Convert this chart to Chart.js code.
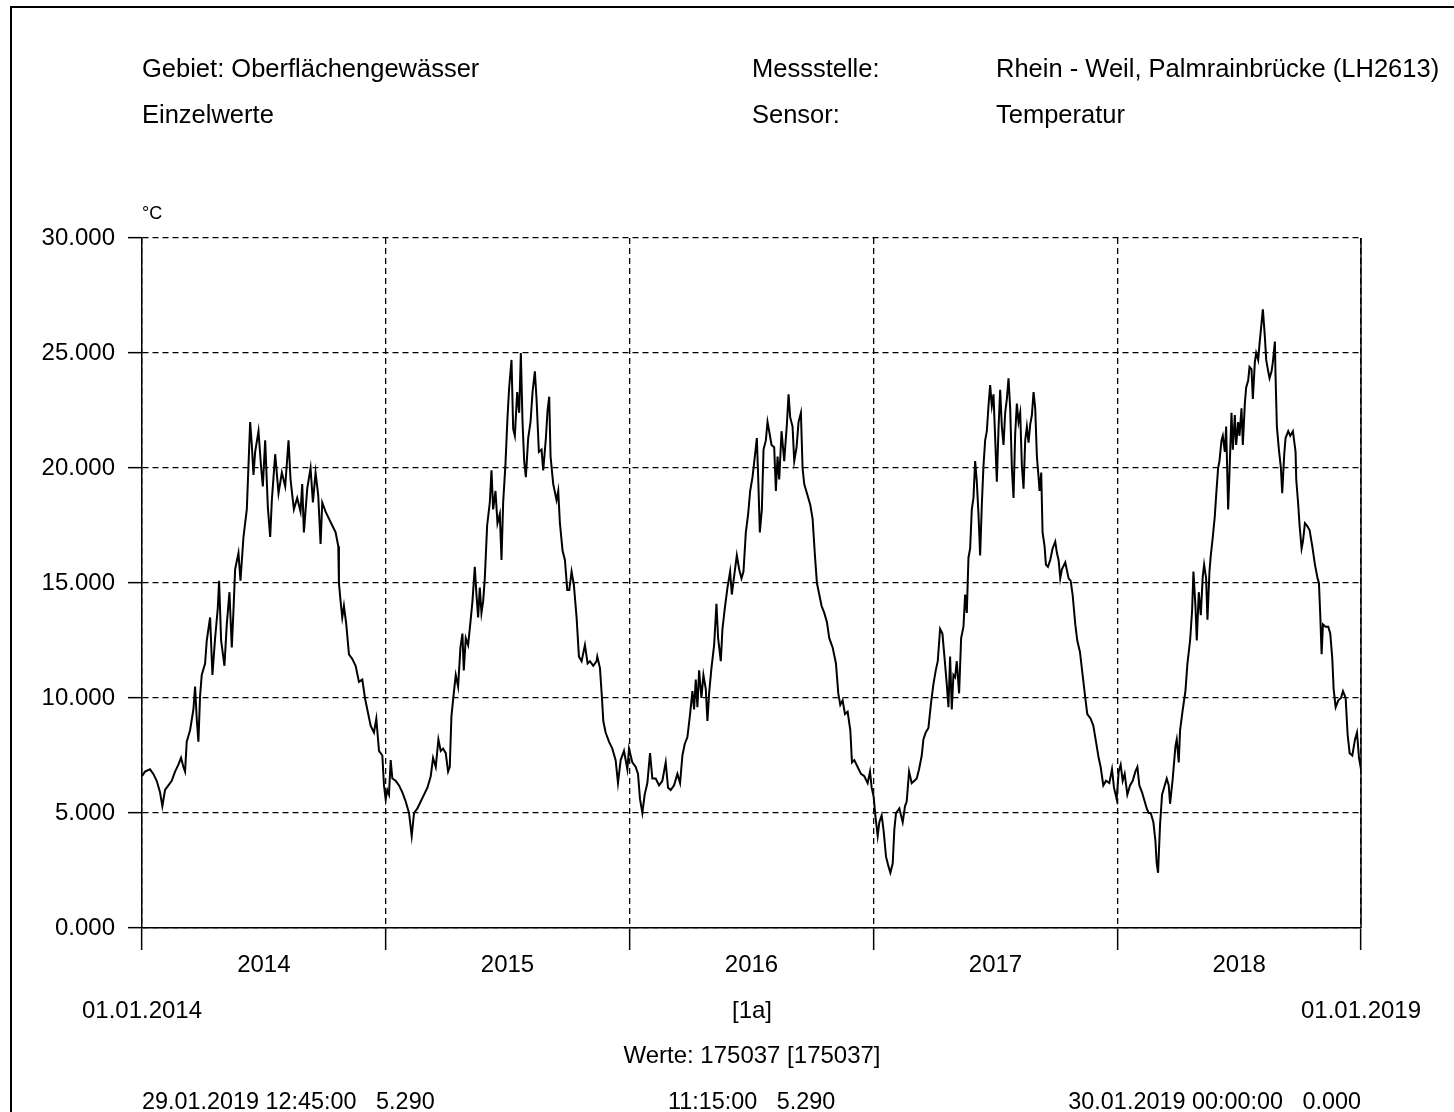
<!DOCTYPE html>
<html>
<head>
<meta charset="utf-8">
<script src="https://cdn.jsdelivr.net/npm/chart.js@4.4.0/dist/chart.umd.min.js"></script>
<style>
html,body{margin:0;padding:0;background:#fff;}
body{width:1454px;height:1112px;position:relative;overflow:hidden;font-family:"Liberation Sans",Arial,sans-serif;color:#000;}
#frame{position:absolute;left:10px;top:6px;width:1500px;height:1200px;border-left:2px solid #000;border-top:2px solid #000;box-sizing:border-box;}
.t{position:absolute;font-size:24px;line-height:24px;white-space:pre;}
.h{font-size:25.5px;line-height:25px;}
.f{font-size:23.4px;line-height:24px;}
.c{transform:translateX(-50%);}
canvas{position:absolute;left:0;top:0;}
</style>
</head>
<body>
<div id="frame"></div>
<canvas id="chart" width="1454" height="1112"></canvas>
<div class="t h" style="left:142px;top:56px;">Gebiet: Oberflächengewässer</div>
<div class="t h" style="left:142px;top:102px;">Einzelwerte</div>
<div class="t h" style="left:752px;top:56px;">Messstelle:</div>
<div class="t h" style="left:752px;top:102px;">Sensor:</div>
<div class="t h" style="left:996px;top:56px;">Rhein - Weil, Palmrainbrücke (LH2613)</div>
<div class="t h" style="left:996px;top:102px;">Temperatur</div>
<div class="t" style="left:142px;top:204px;font-size:18px;line-height:18px;">°C</div>
<div class="t c" style="left:142px;top:998px;">01.01.2014</div>
<div class="t c" style="left:752px;top:998px;">[1a]</div>
<div class="t c" style="left:1361px;top:998px;">01.01.2019</div>
<div class="t c" style="left:752px;top:1043px;">Werte: 175037 [175037]</div>
<div class="t f" style="left:142px;top:1089px;">29.01.2019 12:45:00   5.290</div>
<div class="t f" style="left:668px;top:1089px;">11:15:00   5.290</div>
<div class="t f" style="right:93px;top:1089px;">30.01.2019 00:00:00   0.000</div>
<script>
// Days since 01.01.2014 and water temperature (°C)
const dayOffsets = [
0,4.5,12,17,22,27,30.5,34.5,39.5,44.5,49.5,54.5,58.5,62,64.5,67,72,77,79.5,82,84.5,87,89.5,94.5,97,102,105.5,109.5,113.5,115.5,118.5,123.5,127,131,134.5,137,139.5,144.5,147.5,152,157,159.5,162,164.5,167,169.5,174.5,178.5,181,184.5,188.5,192,194.5,199.5,204.5,209.5,214.5,219.5,
222.5,227.5,232.5,237.5,240,242.5,247.5,252.5,256,260,264,267.5,270,275,280,285,290,294,295,297.5,300,302.5,306,310,315,320,325,330,334,337.5,342.5,347.5,351,355,360,362.5,365,367.5,370,372.5,375,380,385,390,395,400,404,407.5,412.5,417.5,422.5,427.5,432.5,436,440,444,447.5,451,
455,458.5,461,463.5,467,470,473.5,477,480,482,485,488.5,492,495,498.5,501,503.5,506,508.5,511,513.5,517,521,523.5,526,529.5,532.5,536,538.5,541,544.5,547.5,550,553.5,556,558.5,562,565,567.5,570,572.5,575,578.5,582,585,588.5,591,594.5,598.5,601,605,607.5,610,612,616,621,623.5,626,630,633.5,637,640,643.5,647,651,654.5,658.5,663.5,667.5,671,676,681,
682,686,689,691,694.5,699.5,704.5,709.5,713,717,722,727,729.5,734.5,739.5,743,746,749.5,753,757,761,764.5,769.5,774.5,779.5,784.5,788,792,797,802,806,809.5,813,817,821,824.5,827,829.5,832,834.5,838,841,844.5,847,849.5,853,857,860.5,863,867,869.5,873,877,881,883.5,887,891,894.5,898,901,904.5,908,911,914.5,
918,921,923,925.5,928.5,931,934.5,937,939.5,943,947,949.5,952,954.5,958,962,966,968.5,971,974.5,977,980.5,983.5,987,989.5,992,996,1001,1004.5,1008,1011,1014.5,1018,1022,1026,1029.5,1034.5,1039.5,1043,1046,1049.5,1053,1057,1061,1063.5,1067,1072,1077,1082,1087,1090.5,1093,1096,1098.5,1102,1104.5,1108,1111,1114.5,1118,1121,1124.5,1127,1129.5,1134.5,1139.5,1143,
1145.5,1149,1153,1157,1160.5,1164,1168,1170.5,1174,1178,1182,1185.5,1189,1192,1195.5,1199,1202,1205.5,1208,1210.5,1213,1215.5,1218,1220.5,1224,1227,1230.5,1233,1235.5,1238,1240.5,1243,1245.5,1248,1250.5,1253,1255.5,1258,1260.5,1263,1265.5,1268,1270.5,1273,1275.5,1278,1280.5,1283,1285.5,1288,1290.5,1293,1295.5,1298,1300.5,1303,1305.5,1308,1310.5,1313,1315.5,1318,1320.5,1323,1325.5,1328,1330.5,1333,1335.5,1338,1340.5,1343,1344.5,1347,1349,1352,1354,1357,1360.5,1364,1368,1370.5,1373,1375.5,
1378,1383,1388,1391,1394,1398,1401,1405,1409,1413,1416,1421,1425,1429,1433,1436,1440,1444,1449,1453,1456,1460,1463,1466,1469,1472,1476,1480,1484,1488,1491,1494,1498,1501,1505,1508,1511,1515,1518,1520,1522,1525,1528,1531,1535,1538,1540,1544,1548,1550,1553,1555,1559,1563,1566,1570,1573,1575,1578,1580,1583,1586,1589,1591,1594,1596,1599,1601,
1604,1607,1609,1612,1614,1617,1619,1622,1624,1627,1629,1632,1634,1637,1639,1642,1644,1647,1649,1652,1654,1657,1659,1662,1664,1667,1669,1672,1674,1677,1679,1682,1684,1687,1689,1692,1694,1697,1698,1700,1703,1706,1708,1711,1713,1717,1720,1724,1728,1729,1732,1734,1737,1739,1742,1745,1749,1753,1757,1761,1763,1765,1767,1769,1773,1777,1780,1783,1785,1788,1792,1796,1799,1803,1806,1809,1813,1817,1820,1823,1826
];
const temperatures = [
6.6,6.8,6.9,6.7,6.4,5.9,5.3,6.0,6.2,6.4,6.8,7.1,7.4,7.0,6.8,8.1,8.6,9.5,10.5,9.1,8.1,10.1,11.0,11.5,12.5,13.5,11.0,12.6,13.9,15.1,12.5,11.4,13.2,14.6,12.2,13.8,15.6,16.3,15.1,17.0,18.2,20.1,22.0,21.0,19.7,20.7,21.6,20.0,19.2,21.2,18.3,17.0,18.6,20.6,18.9,19.8,19.2,21.2,
19.5,18.2,18.7,18.1,19.3,17.2,19.1,20.0,18.5,19.8,18.8,16.7,18.5,18.1,17.8,17.5,17.2,16.6,15.0,14.2,13.5,14.0,13.2,11.9,11.7,11.4,10.7,10.8,10.0,9.5,8.8,8.5,9.1,7.7,7.5,6.2,5.6,6.0,5.8,7.3,6.5,6.4,6.2,5.9,5.5,5.0,4.0,5.0,5.2,5.5,5.8,6.1,6.6,7.4,7.0,8.2,7.7,7.8,
7.6,6.8,7.0,9.2,10.2,11.0,10.5,12.2,12.8,11.2,12.6,12.3,13.3,14.2,15.7,14.5,13.5,14.8,13.7,14.2,15.2,17.5,18.5,19.9,18.2,19.0,17.6,18.0,16.0,18.5,20.2,22.2,23.5,24.7,21.7,21.4,23.3,22.4,25.0,22.0,20.3,19.6,21.3,22.0,23.3,24.2,23.0,20.7,20.8,19.9,21.3,22.5,23.1,20.5,19.3,18.6,19.0,17.6,16.4,16.0,14.7,14.7,15.5,14.9,13.5,11.8,11.6,12.3,11.5,11.6,11.4,11.6,
11.8,11.3,10.0,9.0,8.5,8.1,7.8,7.3,6.3,7.3,7.7,6.9,7.8,7.2,7.0,6.7,5.6,5.0,5.8,6.3,7.6,6.5,6.5,6.2,6.4,7.2,6.1,6.0,6.2,6.7,6.3,7.5,8.0,8.3,9.3,10.3,9.5,10.8,9.6,11.2,10.0,11.0,10.4,9.0,10.2,11.3,12.3,14.1,12.6,11.6,13.0,13.9,14.8,15.5,14.5,15.3,16.2,15.6,15.2,15.5,17.2,18.0,19.0,19.6,
20.5,21.3,19.6,17.2,18.2,20.8,21.2,22.0,21.6,21.0,20.9,19.0,20.5,19.5,21.6,20.3,21.9,23.2,22.2,21.8,20.3,20.9,22.0,22.4,20.0,19.3,18.9,18.4,17.8,16.2,15.0,14.5,14.0,13.7,13.3,12.6,12.2,11.5,10.2,9.7,9.9,9.3,9.4,8.6,7.2,7.3,7.0,6.7,6.6,6.3,6.8,6.1,5.7,4.9,4.0,4.6,4.9,4.2,3.1,2.7,2.4,2.8,4.3,5.0,5.2,4.6,5.3,
5.5,6.8,6.3,6.4,6.5,6.9,7.5,8.2,8.5,8.7,9.8,10.6,11.2,11.6,13.0,12.8,11.8,10.6,9.6,11.8,9.5,11.0,10.9,11.6,10.2,12.6,13.1,14.5,13.7,16.1,16.5,18.2,18.7,20.3,19.4,18.0,16.2,18.4,20.1,21.2,21.6,22.7,23.6,22.7,23.2,21.3,19.4,21.7,23.4,21.8,21.0,22.4,23.0,23.9,22.6,20.0,18.7,21.5,22.8,22.0,22.4,20.1,19.1,21.2,21.8,21.1,21.9,22.3,23.3,22.6,20.5,19.6,19.0,19.8,17.2,16.6,15.8,15.7,16.0,16.5,16.8,16.3,16.0,15.2,
15.6,15.9,15.2,15.1,14.5,13.2,12.5,12.0,11.0,10.0,9.3,9.1,8.8,8.1,7.4,7.0,6.2,6.4,6.3,6.9,6.1,5.6,6.8,7.1,6.4,6.7,5.8,6.2,6.4,6.8,7.0,6.2,5.9,5.6,5.2,5.0,5.0,4.6,3.8,2.8,2.4,4.5,5.8,6.1,6.5,6.2,5.4,6.5,7.9,8.2,7.2,8.6,9.5,10.3,11.5,12.5,13.8,15.5,14.0,12.5,14.6,13.6,15.3,15.8,15.2,13.4,15.5,16.2,
17.0,17.9,18.8,20.0,20.3,21.2,21.4,20.7,21.8,18.2,19.8,22.4,20.8,22.3,21.0,22.0,21.4,22.6,21.0,22.8,23.5,23.8,24.4,24.3,23.0,24.6,25.0,24.7,25.4,26.3,26.9,25.7,24.7,24.2,23.9,24.2,24.6,25.5,24.0,21.8,20.8,20.0,18.9,20.6,21.3,21.6,21.4,21.6,20.7,19.5,18.4,17.5,16.5,16.8,17.6,17.5,17.3,16.6,15.8,15.2,15.0,13.6,11.9,13.2,13.1,13.1,12.8,11.7,10.4,9.6,9.9,10.0,10.3,10.0,8.4,7.6,7.5,8.2,8.5,7.4,6.9
];
const yearLabels = ['2014', '2015', '2016', '2017', '2018'];
const yearStartDays = [0, 365, 730, 1096, 1461, 1826];
const yearMidDays = [182.5, 547.5, 913, 1278.5, 1643.5];
const yTickValues = [0, 5, 10, 15, 20, 25, 30];

const points = dayOffsets.map((d, i) => ({ x: d, y: temperatures[i] }));
const isYearStart = v => yearStartDays.indexOf(v) >= 0;

Chart.defaults.font.family = "'Liberation Sans', Arial, sans-serif";
Chart.defaults.font.size = 24;
Chart.defaults.color = '#000';

const rightBorder = {
  id: 'rightBorder',
  afterDatasetsDraw(chart) {
    const { ctx, chartArea: a } = chart;
    ctx.save();
    ctx.strokeStyle = '#000';
    ctx.lineWidth = 1.5;
    ctx.beginPath();
    ctx.moveTo(a.right, a.top);
    ctx.lineTo(a.right, a.bottom);
    ctx.stroke();
    ctx.restore();
  }
};

new Chart(document.getElementById('chart'), {
  type: 'line',
  data: {
    datasets: [{
      data: points,
      borderColor: '#000',
      borderWidth: 2,
      pointRadius: 0,
      tension: 0,
      fill: false
    }]
  },
  options: {
    responsive: false,
    animation: false,
    devicePixelRatio: 1,
    plugins: { legend: { display: false }, tooltip: { enabled: false } },
    layout: { padding: { left: 0, top: 238, right: 93, bottom: 124 } },
    scales: {
      x: {
        type: 'linear',
        min: 0,
        max: 1826,
        afterBuildTicks: s => {
          s.ticks = yearStartDays.concat(yearMidDays).sort((a, b) => a - b).map(v => ({ value: v }));
        },
        afterFit: s => { s.height = 60; },
        ticks: {
          autoSkip: false,
          maxRotation: 0,
          minRotation: 0,
          padding: 1,
          callback: v => { const i = yearMidDays.indexOf(v); return i >= 0 ? yearLabels[i] : ''; }
        },
        grid: {
          color: c => (c.tick && isYearStart(c.tick.value)) ? '#000' : 'rgba(0,0,0,0)',
          tickColor: c => (c.tick && isYearStart(c.tick.value)) ? '#000' : 'rgba(0,0,0,0)',
          lineWidth: 1.3,
          tickWidth: 1.5,
          tickLength: 22,
          tickBorderDash: []
        },
        border: { display: true, color: '#000', width: 1.5, dash: [6, 4] }
      },
      y: {
        min: 0,
        max: 30,
        afterBuildTicks: s => { s.ticks = yTickValues.map(v => ({ value: v })); },
        afterFit: s => { s.width = 142; },
        ticks: { padding: 13, callback: v => Number(v).toFixed(3) },
        grid: { color: '#000', lineWidth: 1.3, tickWidth: 1.5, tickLength: 14, tickBorderDash: [] },
        border: { display: true, color: '#000', width: 1.5, dash: [6, 4] }
      }
    }
  },
  plugins: [rightBorder]
});
</script>
</body>
</html>
